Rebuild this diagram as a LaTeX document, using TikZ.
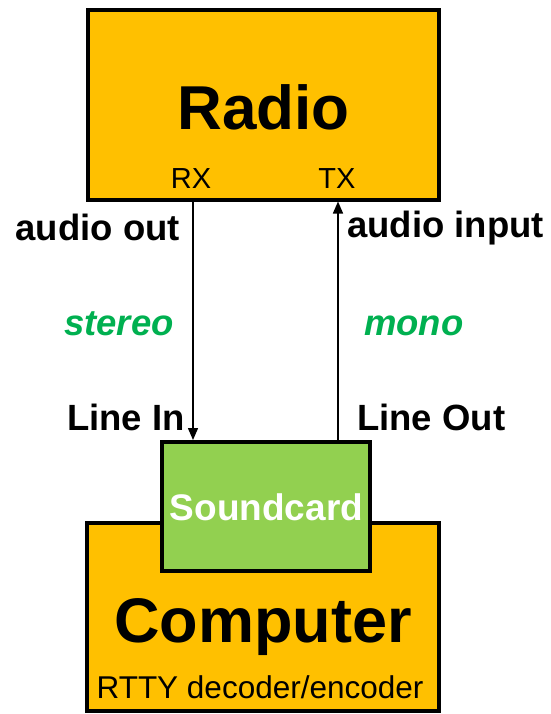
\documentclass[tikz,border=0pt]{standalone}
\usepackage{fontspec}
\setmainfont{Liberation Sans}
\usetikzlibrary{arrows.meta, positioning}
\definecolor{boxorange}{HTML}{FFC000}
\definecolor{cardgreen}{HTML}{92D050}
\definecolor{labelgreen}{HTML}{00B050}

\begin{document}
\begin{tikzpicture}[
    x=1pt, y=-1pt,
    unitbox/.style={draw=black, fill=boxorange, line width=4pt, inner sep=0pt},
    cardbox/.style={draw=black, fill=cardgreen, line width=4pt, inner sep=0pt},
    bigtxt/.style={inner sep=0pt, anchor=base, font=\fontsize{62}{70}\selectfont\bfseries},
    porttxt/.style={inner sep=0pt, anchor=base, font=\fontsize{29}{34}\selectfont},
    sidetxt/.style={inner sep=0pt, font=\fontsize{36.5}{42}\selectfont\bfseries},
    modetxt/.style={inner sep=0pt, text=labelgreen, font=\fontsize{36.5}{42}\selectfont\bfseries\itshape},
    arr/.style={-{Triangle[length=12pt, width=10pt]}, line width=1.5pt}
]
\useasboundingbox (0,0) rectangle (550,714);
% boxes
\node[unitbox, minimum width=351pt, minimum height=189.5pt] (radio) at (263,104.75) {};
\node[unitbox, minimum width=352.5pt, minimum height=188.5pt] (computer) at (262.75,616.75) {};
\node[cardbox, minimum width=208pt, minimum height=129pt] (sound) at (266,506.5) {};
% texts in the boxes
\node[bigtxt] (radiotxt) at (263.5,130) {Radio};
\node[porttxt] (rx) at (191,188) {RX};
\node[porttxt] (tx) at (337,188) {TX};
\node[inner sep=0pt, anchor=base, text=white, font=\fontsize{37}{42}\selectfont\bfseries] (soundtxt) at (266.5,520) {Soundcard};
\node[bigtxt, font=\fontsize{63}{70}\selectfont\bfseries] (comptxt) at (263,642) {Computer};
\node[inner sep=0pt, anchor=base, font=\fontsize{31.5}{36}\selectfont] (rtty) at (260,698) {RTTY decoder/encoder};
% connections
\draw[arr] ([xshift=-70pt]radio.south) -- ([xshift=-73pt]sound.north);
\draw[arr] ([xshift=72pt]sound.north) -- ([xshift=75pt]radio.south);
% labels
\node[sidetxt, anchor=base east] (aout) at (180,240) {audio out};
\node[modetxt, anchor=base east] (stereo) at (174,335) {stereo};
\node[sidetxt, anchor=base east] (linein) at (185,430) {Line In};
\node[sidetxt, anchor=base west] (ain) at (347,237) {audio input};
\node[modetxt, anchor=base west] (mono) at (364,335) {mono};
\node[sidetxt, anchor=base west] (lineout) at (357,430) {Line Out};
\end{tikzpicture}
\end{document}
